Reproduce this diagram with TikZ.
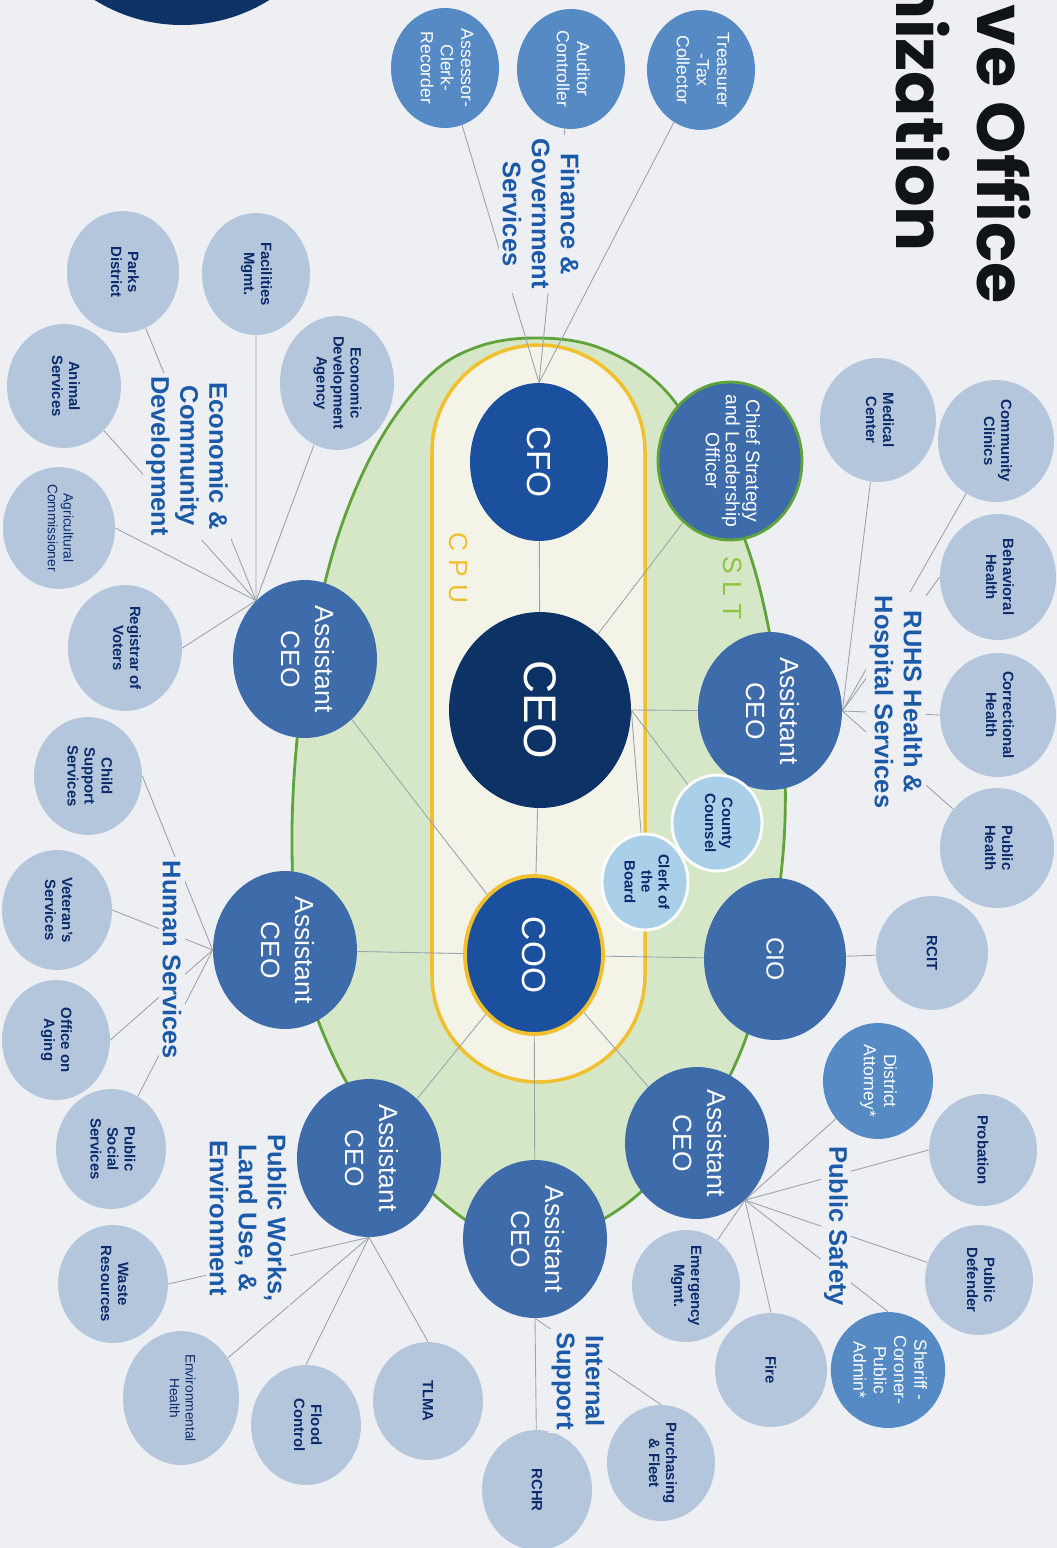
\documentclass[tikz,border=0pt]{standalone}
\usepackage{fontspec}
\setmainfont{Liberation Sans}
\newfontfamily\titlefont{Poppins}
\usepackage{xcolor}
\definecolor{colorPaper}{HTML}{EEEFF3}
\definecolor{colorNavy}{HTML}{0C3266}
\definecolor{colorCore}{HTML}{1A509D}
\definecolor{colorAssistant}{HTML}{3E6CAB}
\definecolor{colorElected}{HTML}{558AC5}
\definecolor{colorDept}{HTML}{B4C6DC}
\definecolor{colorDeptText}{HTML}{0B2B6B}
\definecolor{colorStaff}{HTML}{A9D0E8}
\definecolor{colorGroup}{HTML}{1B5AA8}
\definecolor{colorSLT}{HTML}{5FA33A}
\definecolor{colorSLTFill}{HTML}{D6E7C8}
\definecolor{colorSLTText}{HTML}{8CC63E}
\definecolor{colorCPU}{HTML}{F0C02E}
\definecolor{colorCPUFill}{HTML}{F3F3E8}
\definecolor{colorLink}{HTML}{9DA3AB}
\definecolor{colorTitle}{HTML}{111417}
\usetikzlibrary{shapes.geometric}
\pgfdeclarelayer{back}
\pgfdeclarelayer{links}
\pgfsetlayers{back,links,main}
\newcommand{\ntext}[1]{\makebox[0pt]{\begin{tabular}{@{}c@{}}#1\end{tabular}}}
\tikzset{
  oval/.style 2 args={minimum height=#1*0.04cm, minimum width=#2*0.04cm},
  unit/.style={ellipse, inner sep=0pt, oval={55}{60}},
  ceo/.style={unit, fill=colorNavy, text=white, font=\fontsize{26}{28}\selectfont},
  core/.style={unit, fill=colorCore, text=white, font=\fontsize{19}{21}\selectfont, oval={69}{79}},
  aceo/.style={unit, fill=colorAssistant, text=white, font=\fontsize{15}{19}\selectfont, oval={72}{79}},
  elected/.style={unit, fill=colorElected, text=white, font=\fontsize{10}{11.5}\selectfont},
  dept/.style={unit, fill=colorDept, text=colorDeptText, font=\bfseries\fontsize{8.5}{9.7}\selectfont},
  plainfont/.style={font=\fontsize{7.8}{9}\selectfont},
  staff/.style={unit, fill=colorStaff, draw=white, line width=1.6pt, text=colorDeptText, font=\bfseries\fontsize{8.5}{9.7}\selectfont, oval={45}{48}},
  group/.style={fill=colorPaper, text=colorGroup, align=center, inner sep=2pt, font=\bfseries\fontsize{14.5}{16.5}\selectfont},
  headline/.style={text=colorTitle, inner sep=0pt, font=\titlefont\bfseries\fontsize{38}{40}\selectfont},
  link/.style={draw=colorLink, line width=0.5pt}
}
\begin{document}
\begin{tikzpicture}[x=0.02cm, y=-0.02cm, every node/.style={rotate=-90}]
\useasboundingbox (0,0) rectangle (1057,1548);
\begin{pgfonlayer}{back}
\fill[colorPaper] (0,0) rectangle (1057,1548);
\fill[colorNavy] (182,-140) circle[radius=165];
\draw[colorSLT, fill=colorSLTFill, line width=1.6pt] plot[smooth cycle, tension=0.6] coordinates {(539,338) (600,348) (660,385) (705,450) (745,540) (768,625) (782,720) (785,820) (776,910) (755,1010) (725,1085) (680,1150) (625,1205) (560,1238) (500,1238) (440,1200) (385,1140) (335,1060) (300,960) (292,850) (297,740) (312,640) (340,530) (380,440) (430,375) (480,346)};
\draw[colorCPU, fill=colorCPUFill, line width=2pt, rounded corners=2.13cm] (432,345) rectangle (645,1082);
\end{pgfonlayer}

\node[headline, anchor=base east] (titleTop) at (977,304) {ve Office};
\node[headline, anchor=base east] (titleBot) at (896,252) {nization};

\node[text=colorSLTText, font=\fontsize{15}{15}\selectfont] (sltText) at (733,588) {S L T};
\node[text=colorCPU, font=\fontsize{15}{15}\selectfont] (cpuText) at (459,568) {C P U};

\node[ceo, oval={91}{98}] (ceo) at (540,710) {CEO};
\node[core] (cfo) at (539,462) {CFO};
\node[core, draw=colorCPU, line width=2.2pt] (coo) at (534,955) {COO};
\node[core, fill=colorAssistant, font=\fontsize{14}{16}\selectfont, oval={71}{81}] (cio) at (775,959) {CIO};
\node[core, fill=colorAssistant, draw=colorSLT, line width=1.6pt, font=\fontsize{11}{11.5}\selectfont, oval={72}{79}] (cslo) at (730,461) {\ntext{Chief Strategy\\and Leadership\\Officer}};

\node[aceo] (aceoR) at (770,711) {\ntext{Assistant\\CEO}};
\node[aceo] (aceoE) at (305,659) {\ntext{Assistant\\CEO}};
\node[aceo] (aceoH) at (285,950) {\ntext{Assistant\\CEO}};
\node[aceo] (aceoP) at (369,1158) {\ntext{Assistant\\CEO}};
\node[aceo] (aceoI) at (535,1239) {\ntext{Assistant\\CEO}};
\node[aceo, oval={72}{76}] (aceoS) at (697,1143) {\ntext{Assistant\\CEO}};

\node[staff] (counsel) at (717,823) {\ntext{County\\Counsel}};
\node[staff, oval={43}{48}] (clerk) at (645,882) {\ntext{Clerk of\\the\\Board}};

\node[elected, oval={54}{60}] (treasurer) at (701,70) {\ntext{Treasurer\\-Tax\\Collector}};
\node[elected, oval={54}{60}] (auditor) at (571,69) {\ntext{Auditor\\Controller}};
\node[elected, oval={54}{60}] (assessor) at (445,68) {\ntext{Assessor-\\Clerk-\\Recorder}};

\node[dept, oval={57}{67}] (eda) at (337,383) {\ntext{Economic\\Development\\Agency}};
\node[dept, oval={54}{61}] (facilities) at (256,274) {\ntext{Facilities\\Mgmt.}};
\node[dept, oval={56}{61}] (parks) at (123,272) {\ntext{Parks\\District}};
\node[dept, oval={57}{62}] (animal) at (64,386) {\ntext{Animal\\Services}};
\node[dept, plainfont, oval={56}{61}] (agri) at (59,528) {\ntext{Agricultural\\Commissioner}};
\node[dept, oval={57}{63}] (registrar) at (125,648) {\ntext{Registrar of\\Voters}};

\node[dept, oval={54}{59}] (child) at (88,776) {\ntext{Child\\Support\\Services}};
\node[dept] (veteran) at (57,910) {\ntext{Veteran's\\Services}};
\node[dept, oval={54}{60}] (aging) at (56,1040) {\ntext{Office on\\Aging}};
\node[dept] (social) at (111,1149) {\ntext{Public\\Social\\Services}};

\node[dept, oval={58}{62}] (medical) at (878,420) {\ntext{Medical\\Center}};
\node[dept, oval={58}{61}] (clinics) at (996,441) {\ntext{Community\\Clinics}};
\node[dept, oval={58}{63}] (behavioral) at (998,577) {\ntext{Behavioral\\Health}};
\node[dept, oval={58}{62}] (correctional) at (998,715) {\ntext{Correctional\\Health}};
\node[dept, oval={57}{60}] (publichealth) at (997,848) {\ntext{Public\\Health}};
\node[dept, oval={56}{57}] (rcit) at (932,953) {RCIT};

\node[elected, oval={55}{58}] (da) at (878,1081) {\ntext{District\\Attorney*}};
\node[dept, oval={54}{56}] (probation) at (983,1150) {Probation};
\node[dept, oval={54}{55}] (defender) at (979,1280) {\ntext{Public\\Defender}};
\node[elected, oval={55}{58}] (sheriff) at (888,1370) {\ntext{Sheriff -\\Coroner-\\Public\\Admin*}};
\node[dept, oval={56}{57}] (fire) at (771,1370) {Fire};
\node[dept, oval={54}{56}] (emergency) at (686,1286) {\ntext{Emergency\\Mgmt.}};

\node[dept] (rchr) at (537,1490) {RCHR};
\node[dept, oval={54}{58}] (purchasing) at (661,1463) {\ntext{Purchasing\\\& Fleet}};

\node[dept, oval={55}{59}] (tlma) at (428,1401) {TLMA};
\node[dept] (flood) at (306,1425) {\ntext{Flood\\Control}};
\node[dept, plainfont, oval={58}{67}] (envhealth) at (181,1398) {\ntext{Environmental\\Health}};
\node[dept, oval={55}{59}] (waste) at (113,1284) {\ntext{Waste\\Resources}};

\node[group] (finLabel) at (541,214) {Finance \&\\Government\\Services};
\node[group] (ecoLabel) at (187,456) {Economic \&\\Community\\Development};
\node[group] (hsLabel) at (172,960) {Human Services};
\node[group] (ruhsLabel) at (896,702) {RUHS Health \&\\Hospital Services};
\node[group] (psLabel) at (836,1226) {Public Safety};
\node[group] (isLabel) at (578,1381) {Internal\\Support};
\node[group] (pwLabel) at (248,1218) {Public Works,\\Land Use, \&\\Environment};

\begin{pgfonlayer}{links}
\draw[link] (cfo) -- (ceo);
\draw[link] (ceo) -- (coo);
\draw[link] (coo) -- (aceoI);
\draw[link] (ceo) -- (cslo);
\draw[link] (ceo.north) -- (aceoR);
\draw[link] (ceo.north) -- (counsel);
\draw[link] (ceo.north) -- (clerk);
\draw[link] (aceoE) -- (coo);
\draw[link] (coo) -- (aceoH);
\draw[link] (coo) -- (cio);
\draw[link] (cio) -- (rcit);
\draw[link] (coo) -- (aceoP);
\draw[link] (coo) -- (aceoS);

\draw[link] (cfo.west) -- (treasurer);
\draw[link] (cfo.west) -- (auditor);
\draw[link] (cfo.west) -- (assessor);

\draw[link] (aceoE.220) -- (eda);
\draw[link] (aceoE.220) -- (facilities);
\draw[link] (aceoE.220) -- (parks);
\draw[link] (aceoE.220) -- (animal);
\draw[link] (aceoE.220) -- (agri.north);
\draw[link] (aceoE.220) -- (registrar.north);

\draw[link] (aceoH.south) -- (child.north);
\draw[link] (aceoH.south) -- (veteran.north);
\draw[link] (aceoH.south) -- (aging.north);
\draw[link] (aceoH.south) -- (social);

\draw[link] (aceoR.north) -- (medical);
\draw[link] (aceoR.north) -- (clinics);
\draw[link] (aceoR.north) -- (behavioral.south);
\draw[link] (aceoR.north) -- (correctional.south);
\draw[link] (aceoR.north) -- (publichealth);

\draw[link] (aceoS.40) -- (da);
\draw[link] (aceoS.40) -- (probation.south);
\draw[link] (aceoS.40) -- (defender);
\draw[link] (aceoS.40) -- (sheriff.west);
\draw[link] (aceoS.40) -- (fire.west);
\draw[link] (aceoS.40) -- (emergency);

\draw[link] (aceoI.east) -- (rchr);
\draw[link] (aceoI.east) -- (purchasing.west);

\draw[link] (aceoP.east) -- (tlma.west);
\draw[link] (aceoP.east) -- (flood.west);
\draw[link] (aceoP.east) -- (envhealth);
\draw[link] (aceoP.east) -- (waste.north);
\end{pgfonlayer}
\end{tikzpicture}
\end{document}
